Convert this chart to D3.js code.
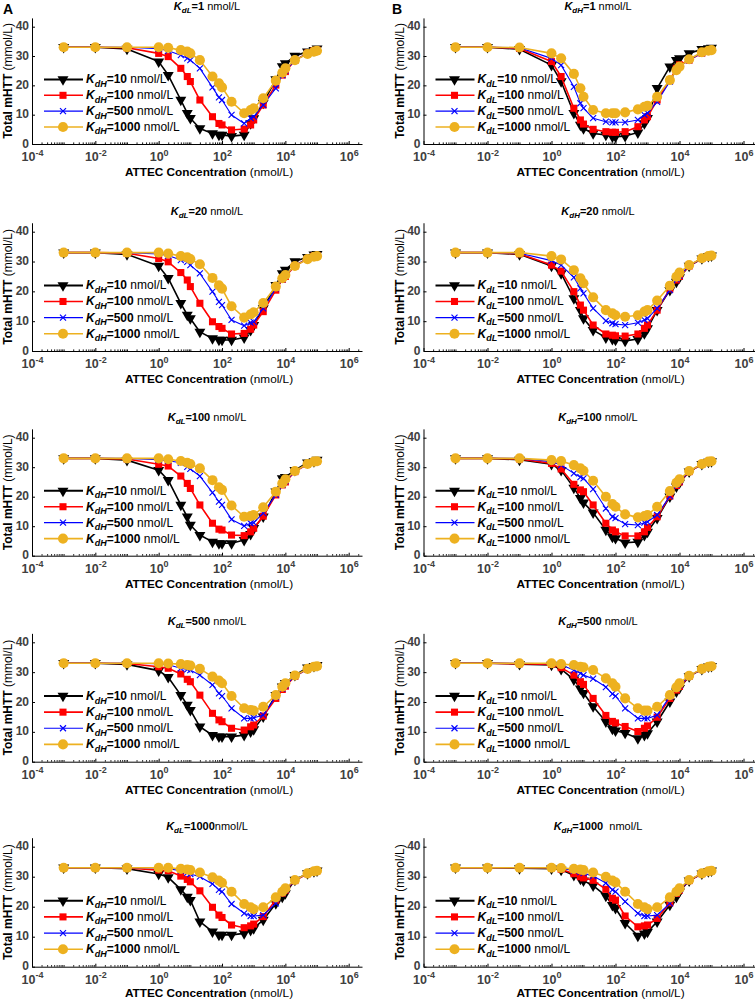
<!DOCTYPE html>
<html><head><meta charset="utf-8">
<script src="https://cdn.jsdelivr.net/npm/d3@7"></script>
<style>
body{margin:0;background:#fff}
svg{display:block}
text{font-family:"Liberation Sans",Arial,Helvetica,sans-serif}
</style>
</head><body>
<svg id="chart" width="755" height="1000"></svg>
<script>
// ---------------- DATA ----------------
const xValues = [1e-3,1e-2,1e-1,1,2,5,8,10,20,50,80,100,200,500,800,1000,2000,5000,8000,1e4,2e4,5e4,8e4,1e5];
const xTickExponents = [-4,-2,0,2,4,6];
const yTicks = [0,10,20,30,40];
const panelLetters = ['A','B'];
const titleValuesA = ['1','20','100','500','1000'];
const titleUnitsA = [' nmol/L',' nmol/L',' nmol/L',' nmol/L','nmol/L'];
const titleValuesB = ['1','20','100','500','1000'];
const titleUnitsB = [' nmol/L',' nmol/L',' nmol/L',' nmol/L','  nmol/L'];
const legendValues = ['10','100','500','1000'];

// Column A: K_dL fixed, series K_dH = 10,100,500,1000
const A_KdL1 = [
 [33,33,32.4,28.1,23.5,15,10.5,8.8,5.3,3.6,3.1,3.1,2.7,3.1,7,8.7,14,22,26.5,27.5,30,31.5,32,32.5],
 [33,33,32.8,30.9,29.8,25.8,23,21.3,15,9.3,7,6.5,4.8,5.1,6.5,8.2,13.3,20.1,23.5,24.7,28.5,31,31.8,32],
 [33,33,33,32.5,31.8,30.3,29.2,28.6,25.8,19.3,15.9,15,9.9,7,8.8,9.3,13.3,19,23.5,25,28.5,31,31.8,32],
 [33,33,33,33,32.8,32,31.5,30.9,28.6,23,20.7,19.3,14.4,10.5,11.6,12.2,15.6,21.6,24.3,25.8,28.6,30.7,31.5,31.8]
];
const A_KdL20 = [
 [33,33,32.4,28.5,24.4,16,12.1,10.9,6.4,4.2,3.7,3.7,3.7,4.5,7,8.7,14.3,22.1,26,27.2,30,31.5,32.3,32.5],
 [33,33,32.8,31,29.9,26.3,23.8,21.6,16,9.8,8.2,7.6,5.7,5.9,7.3,8.7,13.2,20.4,24,25,28.5,31,31.8,32],
 [33,33,33,32.5,32,30.5,29.9,28.8,26,19.9,16.5,15.4,10.4,8.5,9.5,9.8,14.3,21,24,25.3,28.6,31,31.8,32],
 [33,33,33,33,32.7,31.8,31.4,30.8,29.1,24.5,22,20.9,15,11.2,12.3,13,16.1,21.6,24.4,25.5,28.5,30.8,31.6,31.8]
];
const A_KdL100 = [
 [33,33,32.4,29,25.6,17.2,13.2,10.4,7,4.7,4.2,4.2,4.2,5.3,7.3,9.3,13.2,21.7,26.2,26.6,29,31.5,32,32.5],
 [33,33,32.8,31,30.4,27,24.5,22.8,17.2,11,9,8.7,7,6.8,8.1,9.3,13.4,20.6,24,25,28.5,31,31.8,32],
 [33,33,33,32.5,32.2,31.5,30.1,29.4,27,21.4,18.3,17.2,12.3,10.1,11,11.2,14.4,20.6,24,25.3,28.6,31,31.8,32],
 [33,33,33,33,32.7,32.1,31.5,31.1,29.6,25.6,23.2,22.3,17,13.2,13.4,13.8,16.4,21.7,24.5,25.9,28.7,31.1,31.9,32]
];
const A_KdL500 = [
 [33,33,32.6,30.5,28.3,22.3,19,17.3,11.7,8.9,8.4,8.4,8.4,8.9,10.1,10.8,15.1,22.3,25.1,26.3,29,31.5,32,32.3],
 [33,33,32.9,31.8,31.3,29.4,27.6,26.8,22.3,16.2,14,13.4,11.2,10.6,11.7,12.3,15.3,21.2,24.2,25.3,28.6,31,31.8,32],
 [33,33,33,32.8,32.5,31.3,30.9,30.7,29,25.7,22.9,22,17.9,14.5,14.5,14.7,15.6,21.8,24.5,25.6,28.7,31,31.8,32],
 [33,33,33,33,32.9,32.7,32.4,32.2,31.1,28.5,27.2,26.3,22,17.9,17.3,17.1,18.4,22.3,25.1,26.3,28.9,31.1,31.8,32]
];
const A_KdL1000 = [
 [33,33,32.7,30.9,29.8,25.8,23.3,22.2,15,11.7,10.6,10.6,10.6,11.1,12.2,12.8,15.6,21.1,23.3,24.4,28.9,31.1,31.8,32],
 [33,33,32.9,32.2,32,30.2,29.1,28.3,25.3,19.8,17.2,16.4,13.9,13,13.6,14.2,16.7,22.2,24.5,25.5,28.7,31,31.8,32],
 [33,33,33,32.9,32.7,32,31.3,30.9,30,27.6,25.6,25,20.9,17.8,16.9,16.9,17.2,21.1,24.5,25.6,28.8,31,31.8,32],
 [33,33,33,33,33,32.6,32.4,32.2,31.4,29.8,28.7,28,25,20.9,19.8,19.2,19.8,23.1,25,26.1,28.9,31.1,31.8,32]
];
// Column B: K_dH fixed, series K_dL = 10,100,500,1000
const B_KdH1 = [
 [33,33,32.3,26.9,21.3,10.5,6.5,5.3,3.6,3.1,2.5,2.5,2.7,3.9,7,8.8,19,26.4,28.6,29.2,30.9,32.3,32.6,32.8],
 [33,33,32.6,28.1,23,12.2,8.2,6.8,5,4.2,4,4,4.2,5.9,8.2,9.3,15,21.8,25.8,27,28.6,31,31.8,32],
 [33,33,32.8,29.2,26.9,19.5,13.9,12.2,8.8,7.6,7.4,7.4,7.4,8.2,9.9,10.5,14.4,21.3,25.2,26.4,28.6,31,31.8,32],
 [33,33,32.9,30.9,29.2,23.9,19,16.1,11.6,10.5,10.5,10.5,10.8,11.8,12.7,13,16.1,21.8,25.2,26.4,28.9,31.3,31.8,32]
];
const B_KdH20 = [
 [33,33,32.4,28.5,26,17.6,13.7,10.9,7,4.5,4,3.7,3.4,4,5.9,7.6,13.7,20.4,23.2,24.7,28.5,31,31.8,32],
 [33,33,32.6,28.8,26.8,19.9,15.4,13.7,8.7,5.7,5.3,5.1,5,5.7,7.6,8.7,13.7,20.8,23.8,25,28.5,31,31.8,32],
 [33,33,32.8,30.3,28.8,24.7,21,19.3,14.3,10.1,9.3,9,8.7,9.5,10.4,10.9,14.3,20.4,24,25.2,28.6,31,31.8,32],
 [33,33,33,31.8,30.7,27.1,24.4,22.7,18,13.7,12.6,12,11.5,12,13.2,13.7,16.9,21.9,24.9,26.3,28.8,31.1,31.8,32]
];
const B_KdH100 = [
 [33,33,32.5,31,29,23,19.5,18,14.6,8.7,6.4,5.9,4.4,4.7,7,8.1,12.7,20,23.4,24.7,28.5,31,31.8,32],
 [33,33,32.8,31.3,29.4,24.2,22.3,21.7,17.2,11,8.7,8.1,6.7,6.7,8.1,9.6,13.2,20.2,23.8,25,28.5,31,31.8,32],
 [33,33,33,31.9,30.7,27.9,26.6,26.2,22.6,16,13.2,12.7,10.7,10.4,11.2,11.5,13.8,20.2,24,25.2,28.6,31,31.8,32],
 [33,33,33,32.4,32.1,30.7,29.6,28.8,25.4,20,17.5,16.6,14,13,13.4,13.8,16.6,21.9,24.7,25.9,28.7,31.1,31.9,32]
];
const B_KdH500 = [
 [33,33,32.7,32.4,31,27.5,24.5,23,18.5,13.4,11,10.4,9.6,7.8,8.9,9.5,13.4,20.1,23.5,24.6,28.6,31,31.8,32],
 [33,33,32.8,32.6,31.5,29,26.8,25.9,21.2,15.5,13.5,13,11.8,10.1,11.2,12,14.9,21.2,24,25.2,28.6,31,31.8,32],
 [33,33,33,32.8,32.4,30.7,29.6,29,27.8,25,22.7,22,17.9,14.5,14.5,14.5,15.6,21.8,24.5,25.6,28.7,31,31.8,32],
 [33,33,33,33,32.7,32.4,31.8,31.6,30.7,27.9,26.3,25.1,21.2,17.9,17.1,17.1,18.4,22.3,24.9,26.3,28.8,31.1,31.8,32]
];
const B_KdH1000 = [
 [33,33,32.8,32.7,32.3,30.5,29.3,28.7,27,23.6,20.5,19.5,14.5,10.3,11,11.6,15,20.6,23.3,25,28.7,31,31.8,32],
 [33,33,33,33,32.5,31,30,29.6,28.8,25.8,22.8,22.2,16.9,13.3,13.6,13.9,16.1,21.3,24.4,25.5,28.7,31,31.8,32],
 [33,33,33,33,32.8,32,31.5,31.2,30.2,27.9,25.6,25,21.7,17.8,16.9,16.9,17.2,21.1,24.5,25.6,28.8,31,31.8,32],
 [33,33,33,33,32.9,32.6,32.4,32.2,31.4,30,28.7,28.1,25,20.9,19.8,19.2,19.8,23.1,25,26.1,28.9,31.1,31.8,32]
];
const columnA = [A_KdL1, A_KdL20, A_KdL100, A_KdL500, A_KdL1000];
const columnB = [B_KdH1, B_KdH20, B_KdH100, B_KdH500, B_KdH1000];

// ---------------- STYLE / LAYOUT ----------------
const colors = ['#000000','#ff0000','#0000ff','#edb120'];
const lineWidths = [1.6,1.6,1.1,1.6];
const rowY0  = [144, 351, 555.7, 761.7, 966.7];
const rowY40 = [26.7, 231.7, 437.7, 642.3, 846.7];
const colLayout = [{left:32, decade:31.67, titleX:207, axisTitleX:8, letterX:3},
                   {left:423.5, decade:32, titleX:598, axisTitleX:400, letterX:392}];
const xMaxExp = 6.42;

const svg = d3.select('#chart');

function markerPath(i){
  if(i===0) return d3.symbol(d3.symbolTriangle, 52)();
  if(i===1) return d3.symbol(d3.symbolSquare, 50)();
  if(i===2) { const s=3; return `M${-s},${-s}L${s},${s}M${-s},${s}L${s},${-s}`; }
  return d3.symbol(d3.symbolCircle, 80)();
}

function drawPanel(col, row, data, symSub, legSub, titleVal, titleUnit){
  const L = colLayout[col];
  const x = d3.scaleLog().domain([1e-4, Math.pow(10, xMaxExp)])
              .range([L.left, L.left + L.decade*(xMaxExp+4)]);
  const y0 = rowY0[row], y40 = rowY40[row];
  const y = d3.scaleLinear().domain([0,43]).range([y0, y0 - (y0-y40)*43/40]);
  const g = svg.append('g');

  // minor x ticks
  const minors = [];
  for(let e=-4;e<=6;e++){
    for(let m=1;m<=9;m++){
      const v = m*Math.pow(10,e);
      if(m===1 && e%2===0) continue;
      if(v < Math.pow(10,xMaxExp)) minors.push(v);
    }
  }
  const gxMinor = g.append('g').attr('transform',`translate(0,${y0})`)
    .call(d3.axisBottom(x).tickValues(minors).tickSize(-1.6).tickSizeOuter(0).tickFormat(''));
  gxMinor.select('.domain').attr('stroke','#000').attr('stroke-width',1);
  gxMinor.selectAll('.tick line').attr('stroke','#000').attr('stroke-width',0.9);

  const majors = xTickExponents.map(e=>Math.pow(10,e));
  const gx = g.append('g').attr('transform',`translate(0,${y0})`)
    .call(d3.axisBottom(x).tickValues(majors).tickSize(-3).tickSizeOuter(0).tickFormat(''));
  gx.select('.domain').remove();
  gx.selectAll('.tick line').attr('stroke','#000');
  gx.selectAll('.tick').each(function(d,i){
    const t = d3.select(this).append('text').attr('y',17).attr('text-anchor','middle')
      .attr('fill','#404040').attr('font-weight','bold').attr('font-size',12.5);
    t.append('tspan').text('10');
    t.append('tspan').attr('dy',-5.5).attr('font-size',9).text(String(xTickExponents[i]));
  });

  // y axis
  const gy = g.append('g').attr('transform',`translate(${L.left},0)`)
    .call(d3.axisLeft(y).tickValues(yTicks).tickSize(-3).tickSizeOuter(0).tickPadding(3));
  gy.select('.domain').attr('stroke','#000');
  gy.selectAll('.tick line').attr('stroke','#000');
  gy.selectAll('.tick text').attr('fill','#404040').attr('font-weight','bold').attr('dy','0.25em')
    .attr('font-size',12).attr('font-family','"Liberation Sans",Arial,sans-serif');

  // axis titles
  const yt = g.append('text')
    .attr('transform',`translate(${L.axisTitleX+4},${(y(0)+y(43))/2}) rotate(-90)`)
    .attr('text-anchor','middle').attr('font-size',12).attr('fill','#000');
  yt.append('tspan').attr('font-weight','bold').text('Total mHTT ');
  yt.append('tspan').text('(mmol/L)');

  const xt = g.append('text').attr('x', L.left+177).attr('y', Math.min(y0+32, 997.3))
    .attr('text-anchor','middle').attr('font-size',11.8).attr('fill','#000');
  xt.append('tspan').attr('font-weight','bold').text('ATTEC Concentration ');
  xt.append('tspan').text('(nmol/L)');

  // panel title
  const tt = g.append('text').attr('x', L.titleX).attr('y', y40-17)
    .attr('text-anchor','middle').attr('font-size',11).attr('fill','#000');
  tt.append('tspan').attr('font-weight','bold').attr('font-style','italic').text('K');
  tt.append('tspan').attr('font-weight','bold').attr('font-style','italic').attr('font-size',8).attr('dy',3).text(symSub);
  tt.append('tspan').attr('font-weight','bold').attr('dy',-3).text('='+titleVal);
  tt.append('tspan').style('white-space','pre').text(titleUnit);

  // series
  const line = d3.line().x(d=>x(d[0])).y(d=>y(d[1]));
  data.forEach((vals,i)=>{
    const pts = xValues.map((xv,k)=>[xv, vals[k]]);
    const sg = g.append('g');
    sg.append('path').attr('d', line(pts)).attr('fill','none')
      .attr('stroke', colors[i]).attr('stroke-width', lineWidths[i]).attr('stroke-linejoin','round');
    sg.selectAll('g.m').data(pts).join('g').attr('class','m')
      .attr('transform', d=>`translate(${x(d[0])},${y(d[1])})`)
      .each(function(){
        const p = d3.select(this).append('path').attr('d', markerPath(i));
        if(i===0) p.attr('fill',colors[0]).attr('transform','rotate(180)');
        else if(i===2) p.attr('fill','none').attr('stroke',colors[2]).attr('stroke-width',1.1);
        else p.attr('fill',colors[i]);
      });
  });

  // legend
  legendValues.forEach((lv,i)=>{
    const ly = y(22 - 5.4*i);
    const lg = g.append('g');
    lg.append('line').attr('x1',L.left+12).attr('x2',L.left+51).attr('y1',ly).attr('y2',ly)
      .attr('stroke',colors[i]).attr('stroke-width', i===0?2:lineWidths[i]);
    const m = lg.append('path').attr('d', markerPath(i))
      .attr('transform', `translate(${L.left+31},${ly})` + (i===0?' rotate(180)':''));
    if(i===2) m.attr('fill','none').attr('stroke',colors[2]).attr('stroke-width',1.2);
    else m.attr('fill',colors[i]);
    const lt = lg.append('text').attr('x',L.left+54).attr('y',ly+4).attr('font-size',12).attr('fill','#000');
    lt.append('tspan').attr('font-weight','bold').attr('font-style','italic').text('K');
    lt.append('tspan').attr('font-weight','bold').attr('font-style','italic').attr('font-size',9).attr('dy',3.5).text(legSub);
    lt.append('tspan').attr('font-weight','bold').attr('dy',-3.5).text('='+lv);
    lt.append('tspan').text(' nmol/L');
  });
}

for(let r=0;r<5;r++){
  drawPanel(0, r, columnA[r], 'dL', 'dH', titleValuesA[r], titleUnitsA[r]);
  drawPanel(1, r, columnB[r], 'dH', 'dL', titleValuesB[r], titleUnitsB[r]);
}
panelLetters.forEach((p,i)=>{
  svg.append('text').attr('x', colLayout[i].letterX).attr('y', 14)
    .attr('font-size',14).attr('font-weight','bold').attr('fill','#000').text(p);
});
</script>
</body></html>
